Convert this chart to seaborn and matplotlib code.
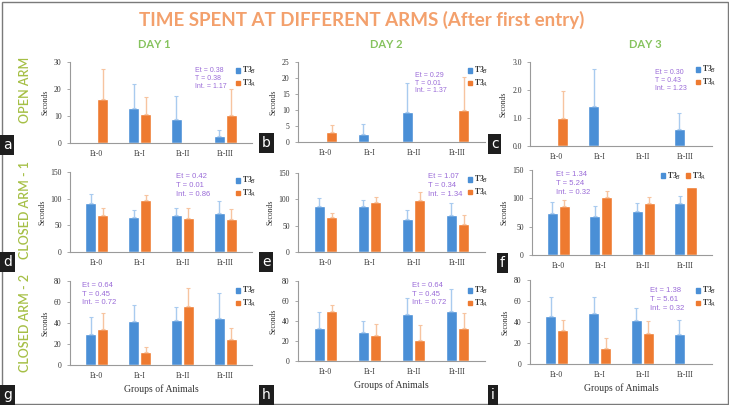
import numpy as np
import pandas as pd
import matplotlib
matplotlib.use("Agg")
import matplotlib.pyplot as plt
from matplotlib.patches import Rectangle
from matplotlib.ticker import FormatStrFormatter
import seaborn as sns

# ---------------- data ----------------
categories = ["Et-0", "Et-I", "Et-II", "Et-III"]
groups = ["T3$_B$", "T3$_A$"]

a_B = [0, 13.1, 9.0, 2.6];      a_B_err = [0, 8.9, 8.4, 2.4]
a_A = [16.4, 10.9, 0, 10.5];    a_A_err = [10.9, 6.1, 0, 9.5]
b_B = [0, 2.6, 9.4, 0];         b_B_err = [0, 2.9, 9.1, 0]
b_A = [3.1, 0, 0, 10.1];        b_A_err = [2.1, 0, 0, 10.2]
c_B = [0, 1.42, 0, 0.6];        c_B_err = [0, 1.32, 0, 0.58]
c_A = [1.0, 0, 0, 0];           c_A_err = [0.95, 0, 0, 0]
d_B = [92, 66, 69, 73];         d_B_err = [17, 12, 14, 23]
d_A = [70, 97, 64, 62.5];       d_A_err = [13, 10.5, 19, 18.5]
e_B = [87, 87, 62, 70];         e_B_err = [16, 11, 18, 22.5]
e_A = [66, 94, 99, 53];         e_A_err = [9, 11, 15, 17]
f_B = [75, 69, 78, 91];         f_B_err = [18, 18, 13, 13]
f_A = [87, 103, 91, 119.5];     f_A_err = [10, 10, 12, 0]
g_B = [29.4, 41.8, 42.7, 45];   g_B_err = [16.6, 15.2, 12.3, 23.7]
g_A = [34, 12.7, 56, 24.7];     g_A_err = [16, 4.1, 17.7, 10.7]
h_B = [33, 29, 46.7, 49.7];     h_B_err = [16, 10.7, 16.3, 22]
h_A = [49.7, 26.3, 21.3, 33];   h_A_err = [6.3, 10.7, 14.7, 15]
i_B = [45.9, 48.4, 41.5, 28.5]; i_B_err = [18.1, 15.2, 12.3, 13.5]
i_A = [32, 15.2, 29.4, 0];      i_A_err = [9.5, 9.5, 11.6, 0]

stats_a = "Et = 0.38\nT = 0.38\nInt. = 1.17"
stats_b = "Et = 0.29\nT = 0.01\nInt. = 1.37"
stats_c = "Et = 0.30\nT = 0.43\nInt. = 1.23"
stats_d = "Et = 0.42\nT = 0.01\nInt. = 0.86"
stats_e = "Et = 1.07\nT = 0.34\nInt. = 1.34"
stats_f = "Et = 1.34\nT = 5.24\nInt. = 0.32"
stats_g = "Et = 0.64\nT = 0.45\nInt. = 0.72"
stats_h = "Et = 0.64\nT = 0.45\nInt. = 0.72"
stats_i = "Et = 1.38\nT = 5.61\nInt. = 0.32"

title = "TIME SPENT AT DIFFERENT ARMS (After first entry)"
day_labels = ["DAY 1", "DAY 2", "DAY 3"]
row_labels = ["OPEN ARM", "CLOSED ARM - 1", "CLOSED ARM - 2"]
y_label = "Seconds"
x_label = "Groups of Animals"

# ---------------- style ----------------
sns.set_theme(style="white")
plt.rcParams["font.family"] = ["DejaVu Sans"]

W, H = 729, 405
fig = plt.figure(figsize=(W / 100, H / 100), dpi=100)
fig.patch.set_facecolor("white")

BLUE = "#4A8FD6"
ORANGE = "#EE7A30"
EBLUE = "#A9CBEF"
EORANGE = "#F7C4A0"
PURPLE = "#9A6BD8"
SERIF = "Liberation Serif"
NARROW = ["Liberation Sans Narrow", "Liberation Sans", "DejaVu Sans"]


def rect(l, t, r, b):
    return [l / W, 1 - b / H, (r - l) / W, (b - t) / H]


panels = [
    ("a", a_B, a_B_err, a_A, a_A_err, 30, 10, "%d", stats_a, (70, 62, 252, 143), (195, 67), (236, 77), False),
    ("b", b_B, b_B_err, b_A, b_A_err, 25, 5, "%d", stats_b, (298, 62, 485, 142), (415, 72), (468, 77), False),
    ("c", c_B, c_B_err, c_A, c_A_err, 3, 1, "%.1f", stats_c, (530, 62, 712, 146), (655, 69), (696, 76), False),
    ("d", d_B, d_B_err, d_A, d_A_err, 150, 50, "%d", stats_d, (70, 172, 252, 252), (176, 173), (236, 187), False),
    ("e", e_B, e_B_err, e_A, e_A_err, 150, 50, "%d", stats_e, (298, 173, 485, 252), (428, 173), (468, 186), False),
    ("f", f_B, f_B_err, f_A, f_A_err, 150, 50, "%d", stats_f, (532, 170, 712, 255), (556, 171), (661, 176), True),
    ("g", g_B, g_B_err, g_A, g_A_err, 80, 20, "%d", stats_g, (70, 281, 252, 365), (82, 282), (236, 297), False),
    ("h", h_B, h_B_err, h_A, h_A_err, 80, 20, "%d", stats_h, (298, 281, 485, 361), (412, 282), (468, 297), False),
    ("i", i_B, i_B_err, i_A, i_A_err, 80, 20, "%d", stats_i, (530, 280, 712, 364), (650, 287), (696, 297), False),
]

letter_pos = {"a": (3, 145), "b": (262, 143), "c": (491, 144),
              "d": (3, 262), "e": (262, 262), "f": (500, 263),
              "g": (3, 395), "h": (262, 395), "i": (491, 395)}

for idx, (letter, B, Be, A, Ae, ymax, step, fmt, stats, apx, spx, lpx, horiz) in enumerate(panels):
    ax = fig.add_axes(rect(*apx))
    df = pd.DataFrame({
        "group": categories * 2,
        "series": [groups[0]] * 4 + [groups[1]] * 4,
        "value": list(B) + list(A),
    })
    sns.barplot(data=df, x="group", y="value", hue="series", order=categories,
                hue_order=groups, palette=[BLUE, ORANGE], width=0.56, gap=0.1,
                errorbar=None, ax=ax, legend=False, saturation=1)
    errs = [Be, Ae]
    ecols = [EBLUE, EORANGE]
    bar_containers = list(ax.containers)[:2]
    for k, cont in enumerate(bar_containers):
        for j, bar in enumerate(cont.patches):
            e = errs[k][j]
            if e <= 0:
                continue
            xc = bar.get_x() + bar.get_width() / 2
            ax.errorbar([xc], [bar.get_height()], yerr=[[0], [e]], fmt="none",
                        ecolor=ecols[k], elinewidth=1.0, capsize=1.5, capthick=0.8)
    ax.set_xlim(-0.62, 3.62)
    ax.set_ylim(0, ymax)
    ax.set_yticks(np.arange(0, ymax + step / 2, step))
    ax.yaxis.set_major_formatter(FormatStrFormatter(fmt))
    for s in ["top", "right"]:
        ax.spines[s].set_visible(False)
    for s in ["left", "bottom"]:
        ax.spines[s].set_color("#9a9a9a")
        ax.spines[s].set_linewidth(0.8)
    ax.tick_params(axis="y", length=2, width=0.6, color="#9a9a9a", pad=4,
                   labelsize=5.5, labelcolor="#333333", left=True)
    ax.tick_params(axis="x", length=0, pad=5, labelsize=5.5, labelcolor="#333333")
    for t in ax.get_xticklabels() + ax.get_yticklabels():
        t.set_fontfamily(SERIF)
    ax.set_ylabel(y_label, fontsize=5.5, family=SERIF, color="#333333", labelpad=3)
    if idx >= 6:
        ax.set_xlabel(x_label, fontsize=7, family=SERIF, color="#333333", labelpad=3)
    else:
        ax.set_xlabel("")
    ax.set_facecolor("white")

    small = idx < 3
    fig.text(spx[0] / W, 1 - spx[1] / H, stats, fontsize=5.0 if small else 5.5,
             color=PURPLE, va="top", ha="left", linespacing=1.15 if small else 1.35,
             family=NARROW)
    handles = [Rectangle((0, 0), 1, 1, color=BLUE), Rectangle((0, 0), 1, 1, color=ORANGE)]
    leg = fig.legend(handles, groups, loc="center left",
                     bbox_to_anchor=(lpx[0] / W, 1 - lpx[1] / H),
                     ncol=2 if horiz else 1, frameon=False,
                     handlelength=0.55, handleheight=0.55, handletextpad=0.25,
                     labelspacing=0.15, columnspacing=0.6, borderpad=0, borderaxespad=0,
                     prop={"family": SERIF, "size": 5.5, "weight": "bold"})
    for t in leg.get_texts():
        t.set_color("#333333")

    lx, ly = letter_pos[letter]
    fig.text(lx / W, 1 - ly / H, letter, fontsize=10, color="white", ha="left", va="center",
             bbox=dict(boxstyle="square,pad=0.2", fc="#1e1e1e", ec="none"))

fig.text(362 / W, 1 - 20 / H, title, fontsize=13.5, fontweight="bold", color="#F3A06C",
         ha="center", va="center", family="Lato")
for lab, x in zip(day_labels, [154, 386, 645]):
    fig.text(x / W, 1 - 45 / H, lab, fontsize=8, fontweight="bold", color="#86C35E",
             ha="center", va="center", family="Lato")
for lab, y in zip(row_labels, [90, 210, 323]):
    fig.text(25 / W, 1 - y / H, lab, fontsize=9, color="#A5BF45", rotation=90,
             ha="center", va="center", family="Lato", fontweight="semibold")

fig.add_artist(Rectangle((1.5 / W, 1.5 / H), (W - 3) / W, (H - 3) / H, transform=fig.transFigure,
                         fill=False, ec="#7a7a7a", lw=1.0))

fig.savefig("out.png", dpi=100, facecolor="white")
